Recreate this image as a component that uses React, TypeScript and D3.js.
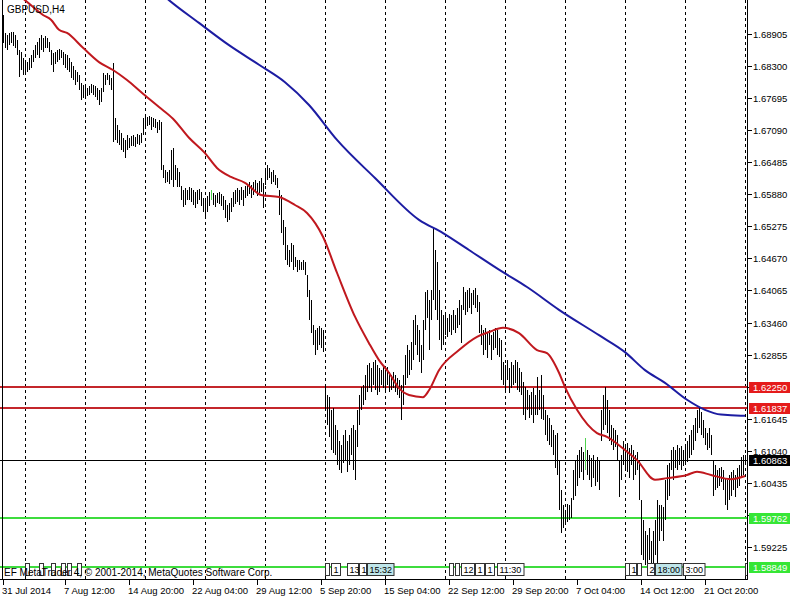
import React from 'react';
import * as d3 from 'd3';

const symbolTitle = 'GBPUSD,H4';
const copyrightText = 'EF MetaTrader 4, \u00A9 2001-2014, MetaQuotes Software Corp.';

const highs = [
  1.6927,1.6893,1.6889,1.6893,1.6895,1.6895,1.6889,1.6879,1.6861,1.6857,1.6846,
  1.6842,1.6838,1.6846,1.6851,1.6861,1.6870,1.6876,1.6883,1.6889,1.6883,1.6887,
  1.6883,1.6876,1.6861,1.6855,1.6857,1.6861,1.6863,1.6861,1.6857,1.6853,
  1.6851,1.6846,1.6838,1.6831,1.6823,1.6819,1.6814,1.6798,1.6795,
  1.6795,1.6789,1.6793,1.6796,1.6795,1.6793,1.6789,1.6785,1.6789,1.6817,
  1.6814,1.6817,1.6814,1.6808,1.6836,
  1.6732,1.6719,1.6709,1.6704,1.6694,1.6690,1.6700,1.6694,1.6698,1.6700,1.6696,1.6702,1.6700,1.6704,
  1.6732,1.6738,1.6734,1.6736,1.6734,1.6732,1.6730,1.6724,1.6728,1.6724,
  1.6643,1.6634,1.6630,1.6634,1.6672,1.6675,1.6643,1.6638,1.6630,1.6604,1.6596,1.6600,1.6596,1.6602,
  1.6600,1.6596,1.6592,1.6596,1.6598,1.6592,1.6581,1.6577,1.6585,1.6592,1.6596,1.6590,1.6587,1.6590,1.6592,1.6588,1.6585,
  1.6577,1.6568,1.6572,1.6581,1.6592,1.6596,1.6600,1.6596,1.6602,1.6596,1.6604,
  1.6608,1.6611,1.6606,1.6611,1.6615,1.6610,1.6613,1.6619,1.6610,
  1.6634,1.6643,1.6638,1.6630,1.6634,1.6625,1.6619,1.6596,1.6587,1.6539,1.6526,
  1.6492,1.6483,1.6496,1.6492,1.6470,1.6464,1.6464,1.6460,1.6464,1.6460,1.6436,1.6407,1.6388,
  1.6341,1.6331,1.6335,1.6339,1.6335,1.6331,
  1.6228,1.6209,1.6205,1.6180,1.6184,1.6152,1.6142,1.6123,1.6114,1.6133,1.6142,1.6123,1.6133,1.6146,1.6152,1.6142,
  1.6180,1.6209,1.6224,1.6228,1.6247,1.6266,1.6270,1.6260,1.6271,1.6275,1.6266,1.6260,1.6256,
  1.6266,1.6256,1.6262,1.6252,1.6247,1.6252,1.6247,1.6241,1.6237,1.6228,
  1.6247,1.6285,1.6303,1.6294,1.6309,1.6350,1.6360,1.6341,1.6331,1.6303,1.6350,1.6403,1.6407,1.6388,1.6407,
  1.6526,1.6483,1.6460,1.6407,1.6369,1.6360,1.6363,1.6354,1.6363,1.6360,1.6369,1.6360,1.6373,1.6388,1.6379,
  1.6413,1.6403,1.6407,1.6411,1.6401,1.6407,1.6411,1.6398,1.6384,
  1.6341,1.6331,1.6335,1.6326,1.6331,1.6322,1.6328,1.6335,1.6331,1.6316,1.6312,
  1.6271,1.6266,1.6275,1.6260,1.6271,1.6266,1.6275,1.6271,1.6260,1.6252,
  1.6233,1.6224,1.6218,1.6209,1.6214,1.6222,1.6209,1.6243,1.6218,1.6247,1.6209,
  1.6180,1.6171,1.6165,1.6152,1.6142,1.6133,1.6137,1.6086,1.6029,
  1.6001,1.5991,1.6004,1.6001,1.6014,1.6067,1.6086,1.6095,
  1.6105,1.6110,1.6101,1.6127,1.6105,1.6095,1.6090,1.6095,1.6086,1.6092,1.6086,
  1.6180,1.6209,1.6224,1.6199,1.6180,1.6152,1.6146,1.6142,1.6133,1.6086,1.6095,
  1.6123,1.6114,1.6118,1.6108,1.6114,1.6105,1.6095,1.6101,1.6086,
  1.6010,1.5972,1.5953,1.5944,1.5957,1.5934,1.5953,1.5972,1.6010,1.6001,
  1.6001,1.5997,1.6048,1.6076,1.6080,1.6105,1.6110,1.6105,1.6114,1.6108,1.6112,1.6105,1.6114,1.6123,
  1.6133,1.6142,1.6152,1.6165,1.6180,1.6186,1.6177,1.6161,1.6146,1.6137,1.6146,1.6133,1.6086,
  1.6076,1.6067,1.6071,1.6073,1.6067,1.6052,1.6048,1.6057,1.6063,1.6067,1.6057,1.6071,1.6076,1.6092,1.6095,1.6095,
];

const lows = [
  1.6874,1.6864,1.6861,1.6870,1.6875,1.6868,1.6864,1.6851,1.6810,1.6823,1.6814,
  1.6814,1.6819,1.6823,1.6827,1.6838,1.6846,1.6851,1.6846,1.6861,1.6857,1.6864,
  1.6864,1.6857,1.6832,1.6819,1.6834,1.6838,1.6842,1.6846,1.6832,1.6827,
  1.6823,1.6819,1.6808,1.6804,1.6795,1.6800,1.6785,1.6766,1.6770,
  1.6772,1.6774,1.6776,1.6779,1.6776,1.6772,1.6766,1.6757,1.6762,1.6781,
  1.6795,1.6804,1.6795,1.6785,1.6687,
  1.6690,1.6685,1.6681,1.6672,1.6668,1.6657,1.6672,1.6675,1.6679,1.6679,1.6677,1.6683,1.6681,1.6685,
  1.6700,1.6713,1.6717,1.6719,1.6709,1.6715,1.6713,1.6704,1.6709,1.6634,
  1.6619,1.6610,1.6611,1.6608,1.6615,1.6602,1.6615,1.6602,1.6602,1.6577,1.6564,1.6568,1.6577,1.6577,
  1.6573,1.6568,1.6562,1.6570,1.6577,1.6566,1.6555,1.6543,1.6555,1.6566,1.6577,1.6568,1.6564,1.6571,1.6570,1.6566,1.6558,
  1.6543,1.6536,1.6539,1.6555,1.6564,1.6570,1.6573,1.6568,1.6577,1.6566,1.6581,
  1.6585,1.6588,1.6581,1.6587,1.6592,1.6585,1.6591,1.6592,1.6562,
  1.6606,1.6615,1.6619,1.6608,1.6611,1.6606,1.6600,1.6549,1.6515,1.6492,1.6464,
  1.6455,1.6451,1.6460,1.6445,1.6451,1.6441,1.6445,1.6445,1.6445,1.6436,1.6394,1.6350,1.6326,
  1.6303,1.6285,1.6294,1.6303,1.6298,1.6290,
  1.6180,1.6152,1.6129,1.6105,1.6099,1.6095,1.6076,1.6067,1.6061,1.6080,1.6086,1.6063,1.6076,1.6095,1.6067,1.6048,
  1.6110,1.6152,1.6180,1.6190,1.6199,1.6215,1.6222,1.6215,1.6228,1.6218,1.6209,1.6215,1.6228,
  1.6222,1.6218,1.6228,1.6215,1.6218,1.6222,1.6215,1.6209,1.6203,1.6161,
  1.6190,1.6228,1.6241,1.6247,1.6256,1.6275,1.6303,1.6285,1.6271,1.6250,1.6275,1.6331,1.6354,1.6294,1.6350,
  1.6388,1.6369,1.6350,1.6312,1.6294,1.6303,1.6322,1.6318,1.6328,1.6322,1.6331,1.6326,1.6335,1.6341,1.6307,
  1.6369,1.6360,1.6365,1.6373,1.6363,1.6379,1.6373,1.6365,1.6326,
  1.6303,1.6285,1.6294,1.6279,1.6303,1.6275,1.6294,1.6298,1.6285,1.6281,1.6237,
  1.6228,1.6218,1.6237,1.6212,1.6222,1.6228,1.6232,1.6218,1.6215,1.6209,
  1.6171,1.6161,1.6180,1.6165,1.6171,1.6157,1.6171,1.6171,1.6180,1.6163,1.6161,
  1.6133,1.6123,1.6114,1.6110,1.6095,1.6072,1.6057,1.5991,1.5948,
  1.5957,1.5963,1.5969,1.5972,1.5976,1.6010,1.6019,1.6038,
  1.6052,1.6063,1.6048,1.6067,1.6057,1.6048,1.6035,1.6052,1.6038,1.6044,1.6029,
  1.6123,1.6142,1.6152,1.6137,1.6123,1.6114,1.6105,1.6110,1.6086,1.6016,1.6048,
  1.6076,1.6067,1.6063,1.6052,1.6076,1.6048,1.6057,1.6067,1.6010,
  1.5906,1.5897,1.5887,1.5882,1.5897,1.5878,1.5887,1.5906,1.5878,1.5934,
  1.5953,1.5934,1.5972,1.6010,1.6019,1.6067,1.6048,1.6071,1.6067,1.6076,1.6067,1.6074,1.6076,1.6082,
  1.6090,1.6095,1.6105,1.6123,1.6137,1.6146,1.6133,1.6127,1.6114,1.6105,1.6108,1.6095,1.6019,
  1.6029,1.6033,1.6038,1.6044,1.6029,1.6001,1.5991,1.6010,1.6019,1.6029,1.6016,1.6033,1.6038,1.6052,1.6057,1.6076,
];

const greenBars = [104, 291];

const maFastIdx = [6,11,20,24,28,32,40,48,55,62,70,78,85,93,101,107,114,121,129,138,146,152,160,167,176,183,188,193,198,203,210,213,218,228,237,243,250,258,267,272,278,281,287,297,302,311,317,326,332,342,347,354,364,371];
const maFastVal = [1.6970,1.6955,1.6927,1.6918,1.6899,1.6893,1.6865,1.6838,1.6823,1.6804,1.6778,1.6753,1.6731,1.6695,1.6666,1.6638,1.6621,1.6610,1.6587,1.6583,1.6568,1.6553,1.6508,1.6440,1.6357,1.6307,1.6275,1.6251,1.6222,1.6209,1.6205,1.6218,1.6256,1.6294,1.6319,1.6328,1.6336,1.6326,1.6294,1.6288,1.6251,1.6224,1.6181,1.6137,1.6130,1.6105,1.6086,1.6049,1.6052,1.6058,1.6064,1.6058,1.6050,1.6056];

const maSlowIdx = [76,83,98,113,128,141,153,167,186,208,220,233,250,262,278,298,311,321,331,342,351,359,369,371];
const maSlowVal = [1.6978,1.6955,1.6912,1.6870,1.6833,1.6800,1.6757,1.6691,1.6619,1.6540,1.6515,1.6483,1.6441,1.6413,1.6370,1.6322,1.6290,1.6256,1.6232,1.6200,1.6181,1.6172,1.6170,1.6170];

const priceTicks = [1.68905,1.683,1.67695,1.6709,1.66485,1.6588,1.65275,1.6467,1.64065,1.6346,1.62855,1.6225,1.61645,1.6104,1.60435,1.5983,1.59225];
const redLevels = [1.6225, 1.61837];
const greenLevels = [1.59762, 1.58849];
const bidPrice = 1.60863;

const gridIdx = [11,41,71,101,131,161,191,221,251,281,311,341,371];
const dateTickIdx = [0,31,63,95,127,159,191,223,255,287,319,351];
const dateTickLabels = ['31 Jul 2014','7 Aug 12:00','14 Aug 20:00','22 Aug 04:00','29 Aug 12:00','5 Sep 20:00','15 Sep 04:00','22 Sep 12:00','29 Sep 20:00','7 Oct 04:00','14 Oct 12:00','21 Oct 20:00'];

const eventIdx = [11,18,24,29,32,37,161,164,172,178,182,223,226,229,236,241,247,311,313,317,322,326,340,371];
const eventText = ['','','','','','','','1','13','1','15:32','','','12','1','1','11:30','','1','','2:','18:00','3:00',''];
const eventHighlight = [182, 326];

const FONT = '"Liberation Sans", Arial, sans-serif';

function textW(s: string) {
  let w = 0;
  for (const c of s) w += c === ':' ? 2.5 : 5;
  return w;
}

export default function App() {
  const W = 800, H = 600;
  const plotR = 747, plotB = 579;
  const x = d3.scaleLinear().domain([0, 371]).range([3, 745]);
  const y = d3.scaleLinear().domain([1.58614, 1.69553]).range([plotB, 0]);
  const line = d3.line<[number, number]>().x(d => x(d[0])).y(d => y(d[1])).curve(d3.curveMonotoneX);
  const fastPts = maFastIdx.map((d, i) => [d, maFastVal[i]] as [number, number]);
  const slowPts = maSlowIdx.map((d, i) => [d, maSlowVal[i]] as [number, number]);
  const fmt = (v: number) => v.toFixed(5);
  const py = (v: number) => Math.round(y(v));
  const boxed = [...redLevels, ...greenLevels, bidPrice];
  const hiddenLabel = (v: number) => boxed.some(b => Math.abs(py(b) - py(v)) < 7);

  return (
    <svg width={W} height={H} style={{ position: 'fixed', left: 0, top: 0, background: '#fff' }} fontFamily={FONT}>
      <defs>
        <clipPath id="plot"><rect x={0} y={0} width={plotR} height={plotB} /></clipPath>
      </defs>
      <rect x={0} y={0} width={W} height={H} fill="#fff" />
      <g clipPath="url(#plot)">
        {gridIdx.map(g => (
          <line key={'g' + g} x1={x(g) + 0.5} x2={x(g) + 0.5} y1={0} y2={plotB} stroke="#000" strokeDasharray="3,3" strokeWidth={1} />
        ))}
        {redLevels.map(v => (
          <line key={'r' + v} x1={0} x2={plotR} y1={py(v)} y2={py(v)} stroke="#c4262b" strokeWidth={2} />
        ))}
        {greenLevels.map(v => (
          <line key={'gr' + v} x1={0} x2={plotR} y1={py(v)} y2={py(v)} stroke="#3ddc3d" strokeWidth={2} />
        ))}
        <line x1={0} x2={plotR} y1={py(bidPrice) + 0.5} y2={py(bidPrice) + 0.5} stroke="#000" strokeWidth={1} />
        {highs.map((h, i) => (
          <line key={'b' + i} x1={x(i) + 0.5} x2={x(i) + 0.5} y1={y(h)} y2={y(lows[i])}
            stroke={greenBars.includes(i) ? '#4fd24f' : '#000'} strokeWidth={1} shapeRendering="crispEdges" />
        ))}
        <path d={line(slowPts) || ''} fill="none" stroke="#1c1ca2" strokeWidth={2} />
        <path d={line(fastPts) || ''} fill="none" stroke="#c0181e" strokeWidth={2} />
        {eventIdx.map((e, i) => {
          const t = eventText[i];
          const next = i + 1 < eventIdx.length ? x(eventIdx[i + 1]) : plotR;
          const w = Math.max(4, Math.min(textW(t) + 4, next - x(e) - 1));
          const hi = eventHighlight.includes(e);
          return (
            <g key={'e' + i}>
              <rect x={x(e) + 0.5} y={563.5} width={w} height={12} fill={hi ? '#bfe6ea' : '#fff'} stroke="#333" strokeWidth={1} />
              {t && <text x={x(e) + 2.5} y={573} fontSize={9} fill="#000">{t}</text>}
            </g>
          );
        })}
        <text x={4} y={576} fontSize={10} fill="#000">{copyrightText}</text>
        <text x={7} y={13} fontSize={10} fill="#000">{symbolTitle}</text>
      </g>
      <line x1={2.5} x2={2.5} y1={0} y2={plotB} stroke="#000" strokeWidth={1} />
      <line x1={plotR + 0.5} x2={plotR + 0.5} y1={0} y2={plotB + 1} stroke="#000" strokeWidth={1} />
      <line x1={0} x2={plotR + 1} y1={plotB + 0.5} y2={plotB + 0.5} stroke="#000" strokeWidth={1} />
      {priceTicks.map(v => (
        <g key={'pt' + v}>
          <line x1={plotR + 1} x2={plotR + 5} y1={py(v) + 0.5} y2={py(v) + 0.5} stroke="#000" strokeWidth={1} />
          {!hiddenLabel(v) && <text x={753} y={py(v) + 4} fontSize={9.5} fill="#000">{fmt(v)}</text>}
        </g>
      ))}
      {redLevels.map(v => (
        <g key={'rl' + v}>
          <rect x={749} y={py(v) - 5} width={41} height={11} fill="#e51b1b" />
          <text x={753} y={py(v) + 4} fontSize={9.5} fill="#fff">{fmt(v)}</text>
        </g>
      ))}
      {greenLevels.map(v => (
        <g key={'gl' + v}>
          <rect x={749} y={py(v) - 5} width={41} height={11} fill="#36e636" />
          <text x={753} y={py(v) + 4} fontSize={9.5} fill="#fff">{fmt(v)}</text>
        </g>
      ))}
      <rect x={749} y={py(bidPrice) - 5} width={41} height={11} fill="#000" />
      <text x={753} y={py(bidPrice) + 4} fontSize={9.5} fill="#fff">{fmt(bidPrice)}</text>
      {dateTickIdx.map((d, i) => (
        <g key={'dt' + d}>
          <line x1={x(d) + 0.5} x2={x(d) + 0.5} y1={plotB + 1} y2={plotB + 6} stroke="#000" strokeWidth={1} />
          <text x={x(d) - 1} y={594} fontSize={9.5} fill="#000">{dateTickLabels[i]}</text>
        </g>
      ))}
    </svg>
  );
}
